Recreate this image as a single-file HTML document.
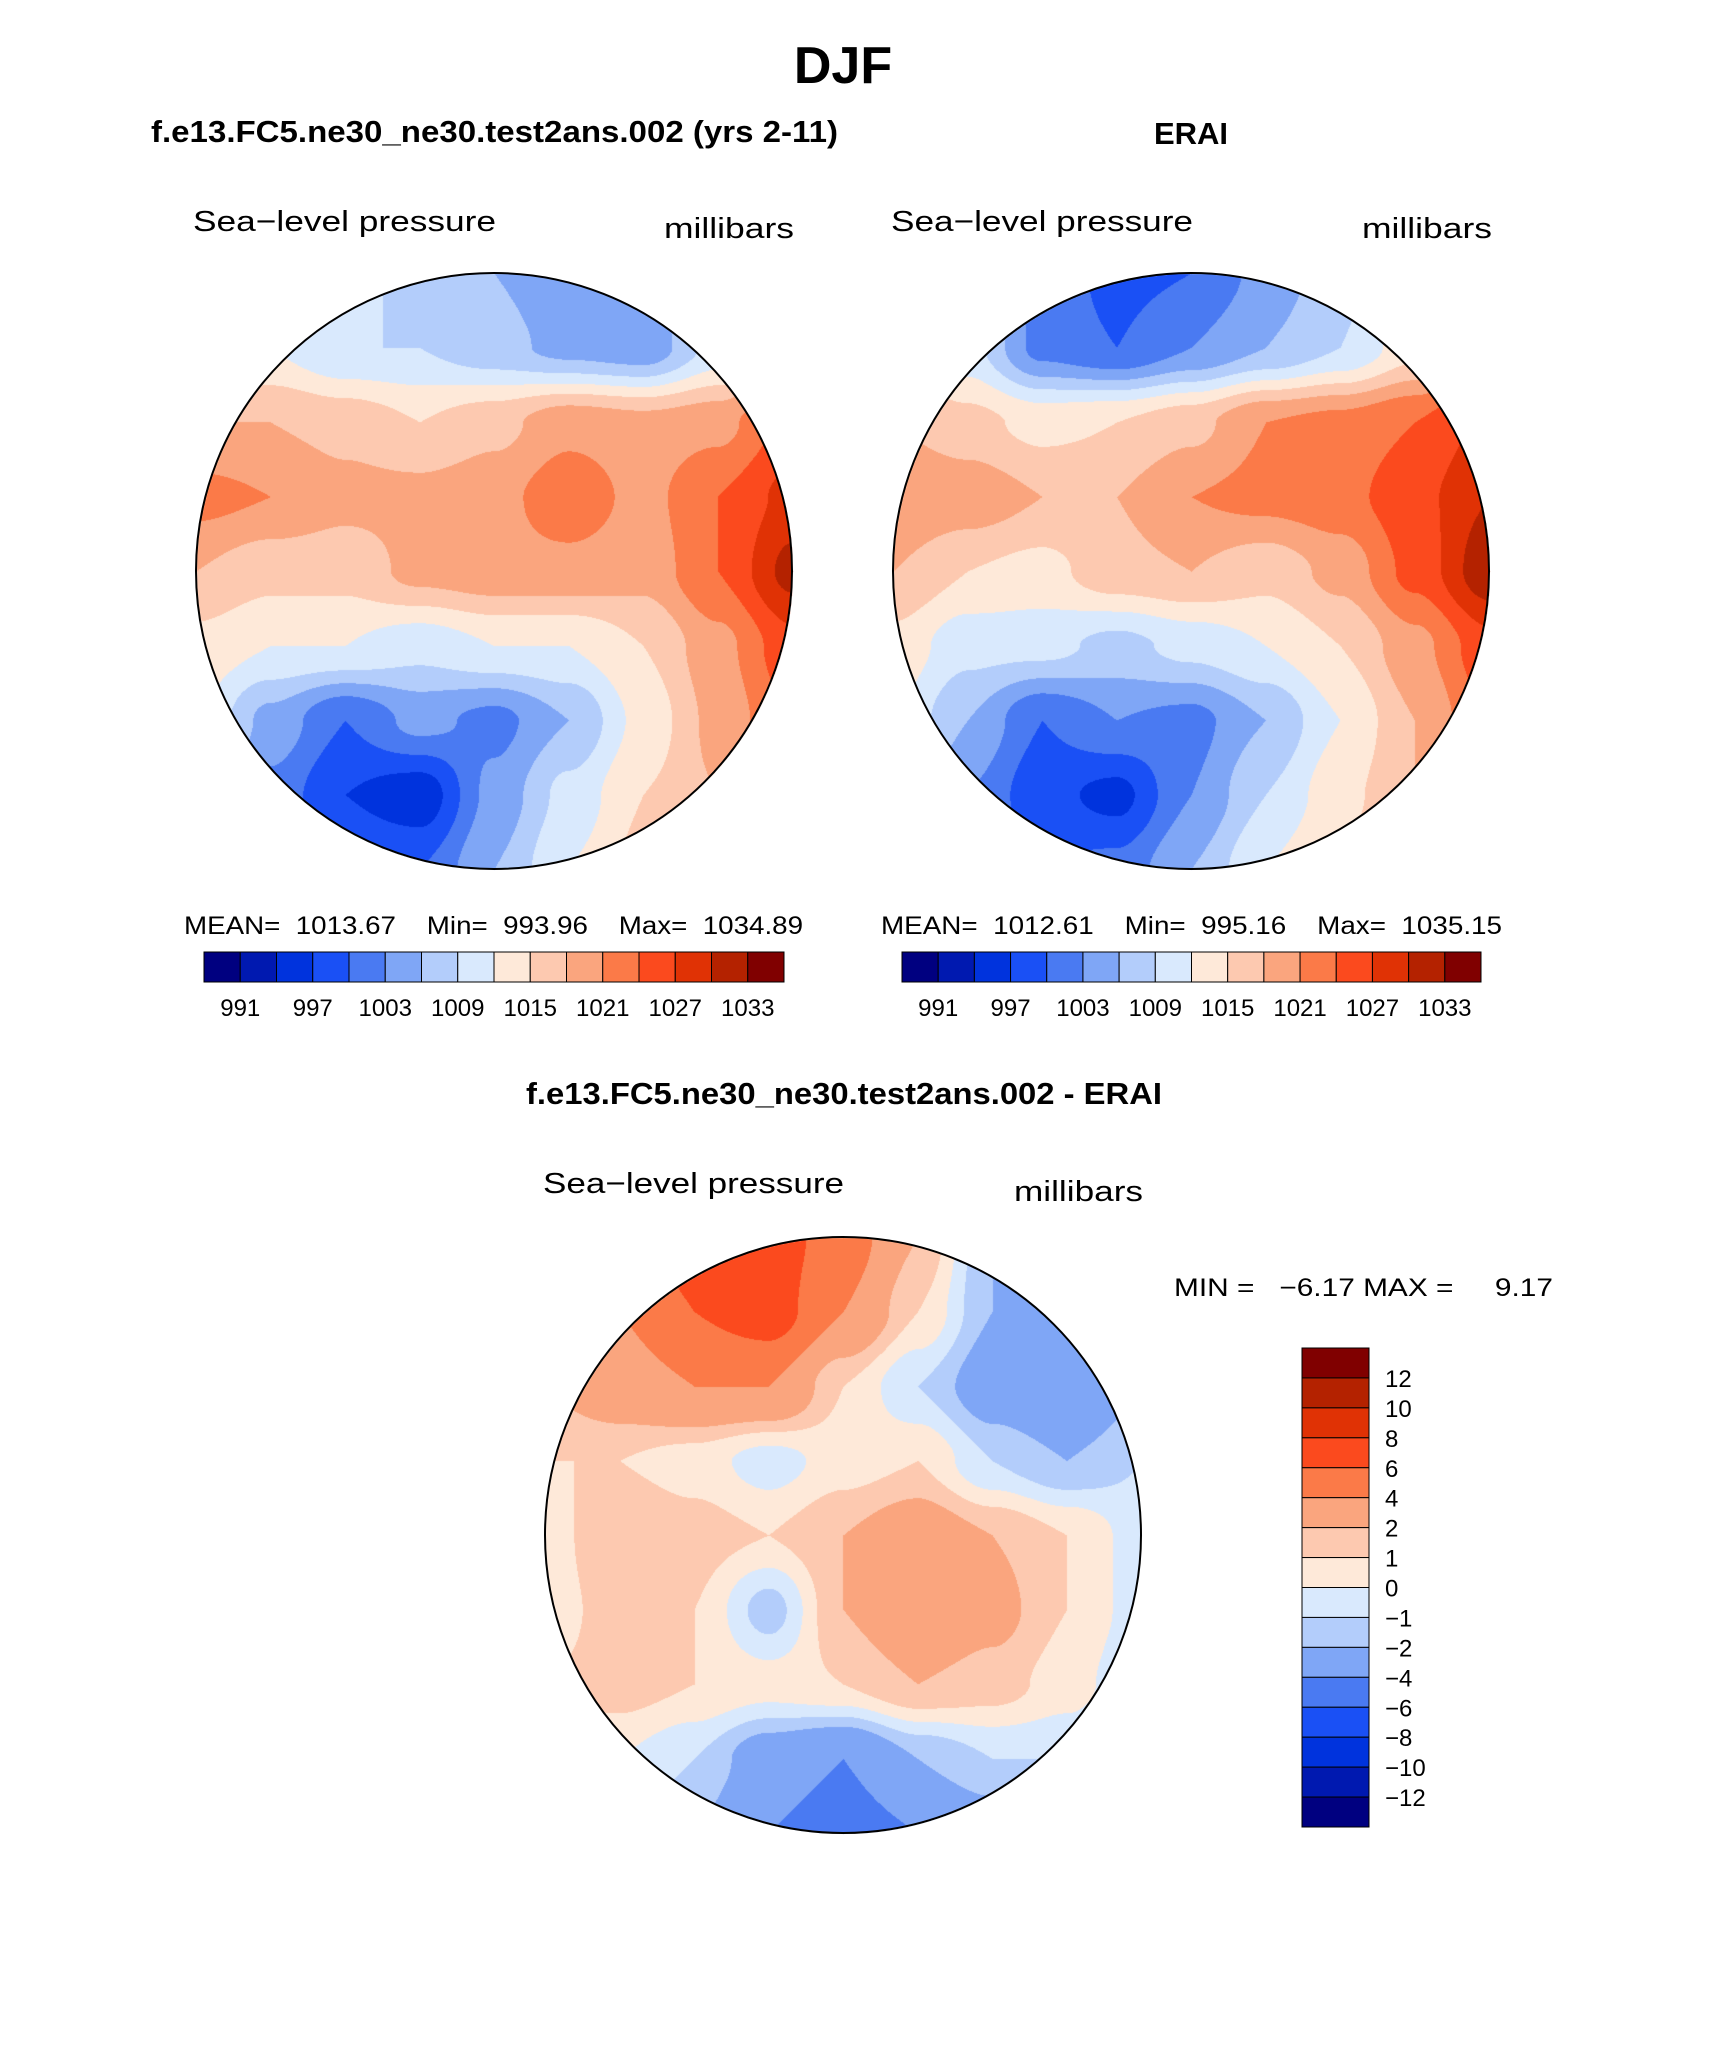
<!DOCTYPE html>
<html><head><meta charset="utf-8"><style>
body{margin:0;background:#fff;width:1710px;height:2061px;position:relative;overflow:hidden;font-family:"Liberation Sans",sans-serif}
canvas{position:absolute}
svg{position:absolute;left:0;top:0}
svg text{white-space:pre}
</style></head><body>
<canvas id="m1" width="600" height="600" style="left:194px;top:271px"></canvas>
<canvas id="m2" width="600" height="600" style="left:891px;top:271px"></canvas>
<canvas id="m3" width="600" height="600" style="left:543px;top:1235px"></canvas>
<svg id="svg" width="1710" height="2061" xmlns="http://www.w3.org/2000/svg" xml:space="preserve">
<g font-family="Liberation Sans, sans-serif" fill="#000">
<text x="843" y="83" font-size="52" font-weight="bold" text-anchor="middle">DJF</text>
<text x="151" y="142" font-size="31" font-weight="bold" textLength="687" lengthAdjust="spacingAndGlyphs">f.e13.FC5.ne30_ne30.test2ans.002 (yrs 2-11)</text>
<text x="1191" y="144" font-size="31" font-weight="bold" text-anchor="middle">ERAI</text>
<text x="193" y="231" font-size="29" textLength="303" lengthAdjust="spacingAndGlyphs">Sea−level pressure</text>
<text x="664" y="238" font-size="29" textLength="130" lengthAdjust="spacingAndGlyphs">millibars</text>
<text x="891" y="231" font-size="29" textLength="302" lengthAdjust="spacingAndGlyphs">Sea−level pressure</text>
<text x="1362" y="238" font-size="29" textLength="130" lengthAdjust="spacingAndGlyphs">millibars</text>
<text x="184" y="934" font-size="25" textLength="619" lengthAdjust="spacingAndGlyphs">MEAN=  1013.67    Min=  993.96    Max=  1034.89</text>
<text x="881" y="934" font-size="25" textLength="621" lengthAdjust="spacingAndGlyphs">MEAN=  1012.61    Min=  995.16    Max=  1035.15</text>
<text x="526" y="1104" font-size="31" font-weight="bold" textLength="636" lengthAdjust="spacingAndGlyphs">f.e13.FC5.ne30_ne30.test2ans.002 - ERAI</text>
<text x="543" y="1193" font-size="29" textLength="301" lengthAdjust="spacingAndGlyphs">Sea−level pressure</text>
<text x="1014" y="1201" font-size="29" textLength="129" lengthAdjust="spacingAndGlyphs">millibars</text>
<text x="1174" y="1296" font-size="25" textLength="379" lengthAdjust="spacingAndGlyphs">MIN =   −6.17 MAX =     9.17</text>
</g>
<g id="bars"></g>
<circle cx="494" cy="571" r="298" fill="none" stroke="#000" stroke-width="2"/>
<circle cx="1191" cy="571" r="298" fill="none" stroke="#000" stroke-width="2"/>
<circle cx="843" cy="1535" r="298" fill="none" stroke="#000" stroke-width="2"/>
</svg>
<script>
const colors=["#000080","#0019b0","#0033dd","#1a50f5","#4a7af2","#7fa6f6","#b3cdfb","#d9e9fd","#fee9d9","#fdc9b0","#faa57e","#fb7a48","#fb4a1e","#e03205","#b42200","#800000"];
const absLevels=[991,994,997,1000,1003,1006,1009,1012,1015,1018,1021,1024,1027,1030,1033];
const absTickLabels=["991","997","1003","1009","1015","1021","1027","1033"];
const diffLevels=[-12,-10,-8,-6,-4,-2,-1,0,1,2,4,6,8,10,12];
const diffTickLabels=["12","10","8","6","4","2","1","0","−1","−2","−4","−6","−8","−10","−12"];
const modelGrid=[
[1012,1012,1010,1008,1006,1004,1004,1010,1016],
[1014,1012,1009,1009,1007,1005,1004,1010,1018],
[1018,1018,1017,1015,1017,1020,1019,1020,1025],
[1022,1021,1019,1019,1020,1023,1020,1024,1028],
[1018,1016,1016,1019,1020,1020,1019,1024,1031],
[1014,1012,1012,1010,1012,1012,1015,1020,1026],
[1012,1005,1000,1004,1002,1006,1013,1019,1024],
[1010,1002,997,995,1004,1010,1015,1018,1022],
[1008,1004,1000,1000,1006,1012,1016,1018,1020]];
const eraiGrid=[
[1010,1008,1002,999,1000,1004,1008,1012,1018],
[1014,1010,1002,1000,1003,1006,1009,1014,1022],
[1018,1016,1014,1015,1017,1021,1022,1024,1028],
[1021,1020,1018,1018,1021,1022,1023,1026,1030],
[1018,1015,1014,1017,1018,1016,1019,1025,1032],
[1014,1010,1010,1008,1010,1012,1015,1020,1026],
[1012,1006,1000,1003,1002,1006,1012,1018,1024],
[1010,1003,998,996,1003,1009,1014,1018,1022],
[1008,1004,1000,1001,1006,1012,1016,1018,1020]];
const diffGrid=[
[3,5,7,7,5,2,-2,-3,-3],
[3,4,6,7,4,1,-2,-4,-3],
[2,3,4,4,1,-1,-3,-4,-2],
[1,1,0.5,-0.5,0.5,1,-1,-2,-1],
[0.5,2,1.5,1,2,3,2,1,-0.5],
[0.5,1.5,1,-1.5,2,3.5,2.5,1,-0.5],
[1,1.5,1,0.5,1,2,1.5,0.5,-1],
[1,0,-1,-3,-4,-2,-1,-1,-2],
[0,-1,-2,-4,-5,-4,-3,-2,-2]];

function hex(c){return [parseInt(c.slice(1,3),16),parseInt(c.slice(3,5),16),parseInt(c.slice(5,7),16)];}
const rgb=colors.map(hex);
function sample(g,u,v){const n=g.length-1;let x=u*n,y=v*n;let i=Math.min(n-1,Math.max(0,Math.floor(x))),j=Math.min(n-1,Math.max(0,Math.floor(y)));let fx=x-i,fy=y-j;fx=fx*fx*(3-2*fx);fy=fy*fy*(3-2*fy);
const a=g[j][i],b=g[j][i+1],c=g[j+1][i],d=g[j+1][i+1];return (a*(1-fx)+b*fx)*(1-fy)+(c*(1-fx)+d*fx)*fy;}
function level(v,lv){let k=0;while(k<lv.length&&v>=lv[k])k++;return k;}
function drawMap(id,g,lv){const cv=document.getElementById(id),ctx=cv.getContext('2d');const W=cv.width,R=298;const img=ctx.createImageData(W,W);
for(let y=0;y<W;y++)for(let x=0;x<W;x++){const dx=x-300,dy=y-300;const p=(y*W+x)*4;if(dx*dx+dy*dy>R*R){img.data[p+3]=0;continue;}
const v=sample(g,(x-2)/596,(y-2)/596);const c=rgb[level(v,lv)];img.data[p]=c[0];img.data[p+1]=c[1];img.data[p+2]=c[2];img.data[p+3]=255;}
ctx.putImageData(img,0,0);}
drawMap('m1',modelGrid,absLevels);drawMap('m2',eraiGrid,absLevels);drawMap('m3',diffGrid,diffLevels);

const NS="http://www.w3.org/2000/svg",bars=document.getElementById('bars');
function hbar(x0,x1,y0,y1,prefix){const w=(x1-x0)/colors.length;
colors.forEach((c,i)=>{const r=document.createElementNS(NS,'rect');r.setAttribute('x',x0+i*w);r.setAttribute('y',y0);r.setAttribute('width',w);r.setAttribute('height',y1-y0);r.setAttribute('fill',c);r.setAttribute('stroke','#000');r.setAttribute('stroke-width','1');


bars.appendChild(r);});
absTickLabels.forEach((t,k)=>{const tx=document.createElementNS(NS,'text');tx.setAttribute('x',x0+(2*k+1)*w);tx.setAttribute('y',y1+34);tx.setAttribute('font-size','24');tx.setAttribute('text-anchor','middle');tx.setAttribute('font-family','Liberation Sans, sans-serif');tx.textContent=t;


bars.appendChild(tx);});}
hbar(204,784,952,982,'model');hbar(902,1481,952,982,'erai');
(function(){const x0=1302,x1=1369,y0=1348,y1=1827,h=(y1-y0)/colors.length;
colors.slice().reverse().forEach((c,i)=>{const r=document.createElementNS(NS,'rect');r.setAttribute('x',x0);r.setAttribute('y',y0+i*h);r.setAttribute('width',x1-x0);r.setAttribute('height',h);r.setAttribute('fill',c);r.setAttribute('stroke','#000');r.setAttribute('stroke-width','1');


bars.appendChild(r);});
diffTickLabels.forEach((t,k)=>{const tx=document.createElementNS(NS,'text');tx.setAttribute('x',1385);tx.setAttribute('y',y0+(k+1)*h+9);tx.setAttribute('font-size','24');tx.setAttribute('font-family','Liberation Sans, sans-serif');tx.textContent=t;


bars.appendChild(tx);});})();
</script>
</body></html>
